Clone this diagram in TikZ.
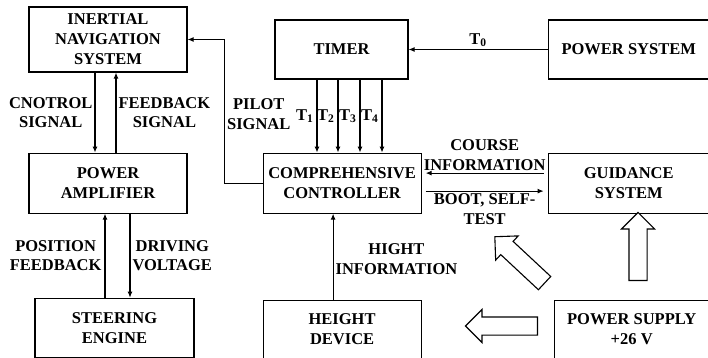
\documentclass[tikz,border=0pt]{standalone}
\usepackage{fontspec}
\setmainfont{Liberation Serif}
\usetikzlibrary{positioning,arrows.meta,shapes.arrows}
\tikzstyle{blk} = [draw, line width=1.1pt, minimum width=158pt, minimum height=60pt, align=center, inner sep=1pt, font=\fontsize{16.5}{20}\selectfont\bfseries]
\tikzstyle{sig} = [draw, line width=1.1pt, -{Latex[length=6pt,width=5pt]}]
\tikzstyle{lbl} = [align=center, inner sep=2pt, font=\fontsize{16.5}{19.5}\selectfont\bfseries]
\tikzstyle{fat} = [single arrow, draw, line width=1.1pt, fill=white, inner sep=8.5pt, single arrow head extend=7.5pt, minimum height=68pt]

\begin{document}
\begin{tikzpicture}[x=1pt, y=-1pt]
\useasboundingbox (0,0) rectangle (708,358);

% Define nodes
\node[blk, minimum height=65pt]                    (ins)   at (108,39.5) {INERTIAL\\NAVIGATION\\SYSTEM};
\node[blk, below=80pt of ins]                      (amp)   {POWER\\AMPLIFIER};
\node[blk, right=75pt of amp]                      (ctrl)  {COMPREHENSIVE\\CONTROLLER};
\node[blk, right=126pt of ctrl, minimum width=161pt] (guid) {GUIDANCE\\SYSTEM};
\node[blk, minimum width=133pt, minimum height=59pt] (timer) at (341.5,49.5) {TIMER};
\node[blk, above=73pt of guid, minimum height=59pt, minimum width=161pt] (psys) {POWER SYSTEM};
\node[blk, below=84pt of amp, xshift=6.5pt, minimum height=59pt, minimum width=159pt] (steer) {STEERING\\ENGINE};
\node[blk, below=86pt of ctrl, minimum height=58pt] (hgt)   {HEIGHT\\DEVICE};
\node[blk, below=86pt of guid, xshift=3pt, minimum height=58pt, minimum width=155pt] (psu) {POWER SUPPLY\\+26 V};

% Power arrows
\node[fat, shape border rotate=90]                      (pup)   at (638,251) {};
\node[fat, shape border rotate=180, minimum height=72pt] (pleft) at (506,326) {};
\node[fat, rotate=137]                                  (pdiag) at (523,263) {};

% Edges
\draw[sig] ([xshift=-13pt]ins.south) -- ([xshift=-13pt]amp.north) node[lbl, midway, left]  {CNOTROL\\SIGNAL};
\draw[sig] ([xshift=8pt]amp.north)   -- ([xshift=8pt]ins.south)   node[lbl, midway, right] {FEEDBACK\\SIGNAL};
\draw[sig] (ctrl.west) -- ++(-38pt,0) |- (ins.east) node[lbl, pos=0.24, right] {PILOT\\SIGNAL};
\foreach \i/\dx in {1/-24.5, 2/-3.5, 3/18.5, 4/40.5}
  \draw[sig] ([xshift=\dx pt]timer.south) -- ++(0,73) node[lbl, midway, left=1pt] {T\textsubscript{\i}};
\draw[sig] (psys.west) -- (timer.east) node[lbl, midway, above] {T\textsubscript{0}};
\draw[sig, shorten >=4pt, shorten <=4pt] ([yshift=10pt]guid.west) -- ([yshift=10pt]ctrl.east) node[lbl, midway, above] {COURSE\\INFORMATION};
\draw[sig, shorten >=4pt, shorten <=4pt] ([yshift=-8pt]ctrl.east) -- ([yshift=-8pt]guid.west) node[lbl, midway, below] {BOOT, SELF-\\TEST};
\draw[sig] ([xshift=-9.5pt]steer.north) -- ++(0,-84) node[lbl, midway, left=1pt] {POSITION\\FEEDBACK};
\draw[sig] ([xshift=22pt]amp.south) -- ++(0,84) node[lbl, midway, right] {DRIVING\\VOLTAGE};
\draw[sig] ([xshift=-9pt]hgt.north) -- ++(0,-86) node[lbl, pos=0.47, right] {HIGHT\\INFORMATION};

\end{tikzpicture}
\end{document}
